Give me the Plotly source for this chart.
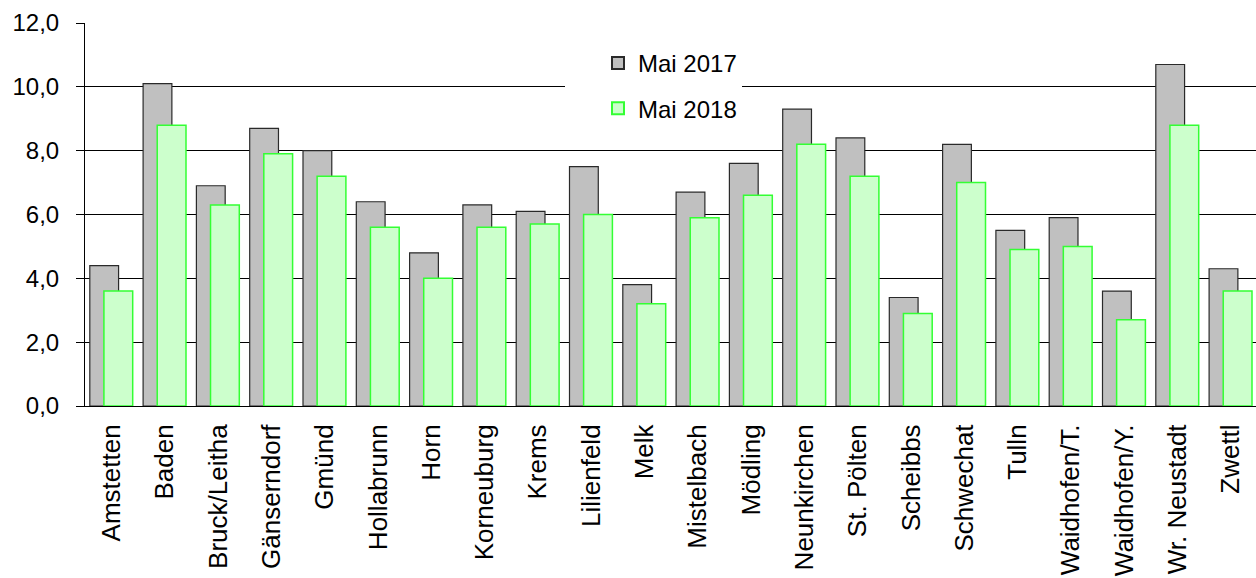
import plotly.graph_objects as go

categories = ["Amstetten", "Baden", "Bruck/Leitha", "Gänserndorf", "Gmünd", "Hollabrunn",
              "Horn", "Korneuburg", "Krems", "Lilienfeld", "Melk", "Mistelbach", "Mödling",
              "Neunkirchen", "St. Pölten", "Scheibbs", "Schwechat", "Tulln", "Waidhofen/T.",
              "Waidhofen/Y.", "Wr. Neustadt", "Zwettl"]
mai_2017 = [4.4, 10.1, 6.9, 8.7, 8.0, 6.4, 4.8, 6.3, 6.1, 7.5, 3.8, 6.7, 7.6, 9.3, 8.4,
            3.4, 8.2, 5.5, 5.9, 3.6, 10.7, 4.3]
mai_2018 = [3.6, 8.8, 6.3, 7.9, 7.2, 5.6, 4.0, 5.6, 5.7, 6.0, 3.2, 5.9, 6.6, 8.2, 7.2,
            2.9, 7.0, 4.9, 5.0, 2.7, 8.8, 3.6]
y_ticks = [0, 2, 4, 6, 8, 10, 12]

FONT = "Liberation Sans, Arial, sans-serif"

fig = go.Figure()
fig.add_trace(go.Bar(
    x=categories, y=mai_2017, name="Mai 2017", legendgroup="a",
    width=0.54, offset=-0.41,
    marker=dict(color="#C0C0C0", line=dict(color="#2a2a2a", width=1.2)),
))
fig.add_trace(go.Bar(
    x=categories, y=mai_2018, name="Mai 2018", legendgroup="b",
    width=0.54, offset=-0.145,
    marker=dict(color="#CCFFCC", line=dict(color="#33FF33", width=1.5)),
))

fig.update_layout(
    width=1256, height=578,
    margin=dict(l=85, r=0, t=23, b=172, autoexpand=False),
    barmode="overlay",
    paper_bgcolor="white", plot_bgcolor="white",
    separators=",.",
    font=dict(family=FONT, color="black"),
    showlegend=True,
    legend=dict(
        x=(565 - 85) / (1256 - 85), y=1 - (41 - 23) / (578 - 23 - 172),
        xanchor="left", yanchor="top",
        bgcolor="white", borderwidth=0,
        font=dict(size=24, family=FONT, color="black"),
        tracegroupgap=11, indentation=33,
        entrywidth=218, itemsizing="constant",
    ),
)
fig.update_xaxes(
    type="category", range=[-0.5, 21.47],
    showgrid=False, showline=True, linecolor="black", linewidth=1,
    ticks="", tickangle=-90, ticklabelstandoff=7,
    tickfont=dict(size=26, family=FONT, color="black"),
)
fig.update_yaxes(
    range=[0, 12], tickvals=y_ticks, tickformat=".1f",
    showgrid=True, gridcolor="black", gridwidth=1,
    showline=True, linecolor="black", linewidth=1,
    ticks="outside", ticklen=8, tickcolor="black", ticklabelstandoff=12,
    tickfont=dict(size=24, family=FONT, color="black"),
    zeroline=False,
)

fig.write_html(
    "out.html",
    config={"displayModeBar": False},
    post_script="document.body.style.margin='0';document.body.style.overflow='hidden';",
)
